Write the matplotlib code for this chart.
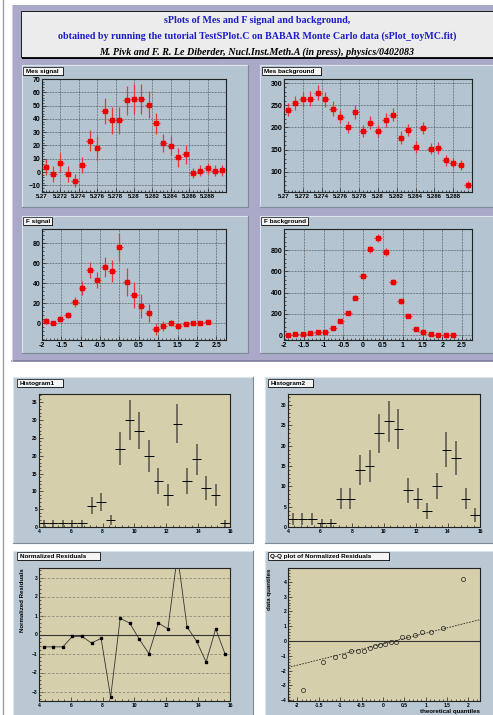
import matplotlib
matplotlib.use('Agg')
import matplotlib.pyplot as plt
import numpy as np
from matplotlib.patches import Rectangle
from matplotlib.ticker import MultipleLocator, FixedLocator

W, H = 493, 715
plt.rcParams['font.family'] = ['Liberation Sans', 'DejaVu Sans']

# ---- datos ----
mes_edges = np.linspace(5.27, 5.29, 26)
mes_signal = [3.75, -1.75, 7, -1.75, -6.5, 5.25, 23.5, 18, 46, 39, 39, 54, 55, 55, 50.7,
              36.75, 21.75, 19.75, 11, 13.25, -0.75, 1, 2.75, 1, 1.25]
mes_signal_err = [6, 6, 7, 6, 5, 6, 8, 9, 10, 10, 10, 11, 11, 11, 10, 8, 7, 7, 7, 7, 4, 4, 4, 4, 4]
mes_bkg = [240, 255, 263, 265, 278, 263, 242.5, 224, 201, 235, 192, 211, 192, 217, 229,
           177, 194, 156, 199, 152.5, 154, 126, 120, 116, 71]
mes_bkg_err = [15, 16, 16, 16, 17, 16, 16, 15, 14, 15, 14, 15, 14, 15, 15,
               14, 14, 13, 14, 13, 13, 12, 11, 11, 9]
mes_ticks = [5.27, 5.272, 5.274, 5.276, 5.278, 5.28, 5.282, 5.284, 5.286, 5.288]
mes_labels = ['5.27', '5.272', '5.274', '5.276', '5.278', '5.28', '5.282', '5.284', '5.286', '5.288']

f_edges = np.linspace(-2, 2.75, 26)
f_signal = [2.3, 0, 4.3, 7.7, 20.7, 34.7, 52.7, 43.3, 56, 52, 75.7, 40.7, 27.7, 17.3, 10.3,
            -5.7, -3, 0, -3, -1.3, 0, 0, 1.3]
f_signal_err = [3, 2, 3, 3, 5, 7, 8, 8, 10, 11, 14, 14, 13, 12, 9, 6, 5, 3, 3, 2, 2, 2, 2]
f_bkg = [3, 6, 9, 16, 25, 25, 63, 129, 210, 351, 555, 806, 916, 781, 499, 317, 179, 56,
         28, 12, 3, 3, 3]
f_bkg_err = [4, 5, 6, 7, 8, 8, 11, 15, 19, 24, 30, 36, 38, 35, 28, 22, 17, 10, 7, 5, 3, 3, 3]
f_ticks = [-2, -1.5, -1, -0.5, 0, 0.5, 1, 1.5, 2, 2.5]
f_labels = ['-2', '-1.5', '-1', '-0.5', '0', '0.5', '1', '1.5', '2', '2.5']

h_edges = np.linspace(4, 16, 21)
histogram1 = [1, 1, 1, 1, 1, 6, 7, 2, 22, 30, 27, 20, 13, 9, 29, 13, 19, 11, 9, 1]
histogram2 = [2, 2, 2, 1, 1, 7, 7, 14, 15, 23, 26, 24, 9, 7, 4, 10, 19, 17, 7, 3]
residuals = [-0.65, -0.65, -0.65, -0.1, -0.1, -0.45, -0.2, -3.3, 0.85, 0.6, -0.25, -1.0,
             0.6, 0.3, 4.2, 0.4, -0.35, -1.45, 0.3, -1.05]
qq_theo = [-1.87, -1.40, -1.13, -0.92, -0.74, -0.59, -0.45, -0.31, -0.19, -0.06,
           0.06, 0.19, 0.31, 0.45, 0.59, 0.74, 0.92, 1.13, 1.40, 1.87]
qq_slope, qq_intercept = 0.72, -0.19

titulo = ['sPlots of Mes and F signal and background,',
          'obtained by running the tutorial TestSPlot.C on BABAR Monte Carlo data (sPlot_toyMC.fit)',
          'M. Pivk and F. R. Le Diberder, Nucl.Inst.Meth.A (in press), physics/0402083']

# ---- colores ----
canvas_col = '#aba9c9'
pad_col = '#b4c4d0'
pad2_col = '#b9c8d3'
frame_col = '#d6cfab'
light, dark = '#dde5ec', '#7f8c98'

fig = plt.figure(figsize=(W/100, H/100), dpi=100)
fig.patch.set_facecolor('white')
bg = fig.add_axes([0, 0, 1, 1])
bg.set_xlim(0, W); bg.set_ylim(H, 0); bg.axis('off')

def px_axes(x0, y0, x1, y1):
    return fig.add_axes([x0/W, 1-y1/H, (x1-x0)/W, (y1-y0)/H])

def pad(x0, y0, x1, y1, col):
    bg.add_patch(Rectangle((x0, y0), x1-x0, y1-y0, fc=col, ec='none'))
    bg.plot([x0, x0, x1], [y1, y0, y0], color=light, lw=0.8)
    bg.plot([x0, x1, x1], [y1, y1, y0], color=dark, lw=0.8)

def caja(x0, y0, x1, y1, texto):
    bg.add_patch(Rectangle((x0+1, y0+1), x1-x0, y1-y0, fc='black', ec='none'))
    bg.add_patch(Rectangle((x0, y0), x1-x0, y1-y0, fc='#f4f4f4', ec='black', lw=0.5))
    bg.text(x0+2.5, (y0+y1)/2+0.3, texto, fontsize=4.6, fontweight='bold', va='center', ha='left')

# linea gris a la izquierda
bg.plot([3, 3], [0, H], color='#a0a0a0', lw=1)

# lienzo superior
bg.add_patch(Rectangle((12, 5), W-12, 356, fc=canvas_col, ec='none'))
bg.plot([12, W], [361, 361], color='#7d7b99', lw=1.2)
bg.plot([12, 12], [5, 361], color='#cfcde3', lw=0.8)

# titulo
bg.add_patch(Rectangle((22, 13), W-22, 46, fc='black', ec='none'))
bg.add_patch(Rectangle((21, 11), W-21, 46, fc='#ececec', ec='black', lw=0.6))
for i, col, st in [(0, '#1c1cc8', 'normal'), (1, '#1c1cc8', 'normal'), (2, 'black', 'italic')]:
    bg.text(257, 20.5 + 15.7*i, titulo[i], color=col, fontsize=7.2, fontweight='bold',
            style=st, family='Liberation Serif', ha='center', va='center')

# pads superiores
pad(22, 65, 248, 207, pad_col)
pad(260, 65, W+2, 207, pad_col)
pad(22, 216, 248, 353, pad_col)
pad(260, 216, W+2, 353, pad_col)

# pads inferiores
pad(13, 377, 253, 543, pad2_col)
pad(265, 377, W+2, 543, pad2_col)
pad(13, 551, 253, H+2, pad2_col)
pad(265, 551, W+2, H+2, pad2_col)


def estilo(ax, size, bold=True):
    ax.tick_params(which='both', direction='in', top=False, right=False,
                   labelsize=size, pad=1.2, width=0.5, color='#222222')
    ax.tick_params(which='major', length=3.2)
    ax.tick_params(which='minor', length=1.7)
    for lab in ax.get_xticklabels() + ax.get_yticklabels():
        lab.set_fontweight('bold' if bold else 'normal')
    for s in ax.spines.values():
        s.set_linewidth(0.8)
        s.set_color('#222222')


def superior(ax, edges, vals, errs, ylim, ymaj, ymin_, xt, xl, xminor, xsize=5):
    centers = 0.5*(edges[:-1]+edges[1:])
    half = 0.5*np.diff(edges)
    n = len(vals)
    ax.set_facecolor(pad_col)
    ax.errorbar(centers[:n], vals, yerr=errs, xerr=half[:n], fmt='s', color='#ee0000',
                ms=3.0, ecolor='#e8383c', elinewidth=0.9, capsize=0, zorder=3)
    ax.set_xlim(edges[0], edges[-1])
    ax.set_ylim(*ylim)
    ax.xaxis.set_major_locator(FixedLocator(xt))
    ax.set_xticklabels(xl)
    ax.xaxis.set_minor_locator(MultipleLocator(xminor))
    ax.yaxis.set_major_locator(MultipleLocator(ymaj))
    ax.yaxis.set_minor_locator(MultipleLocator(ymin_))
    ax.grid(True, which='major', linestyle=(0, (1, 1.2)), color='#333333', lw=0.5)
    estilo(ax, 5)
    ax.tick_params(axis='x', labelsize=xsize)


ax1 = px_axes(42, 79, 226, 192)
superior(ax1, mes_edges, mes_signal, mes_signal_err, (-15, 70), 10, 2, mes_ticks, mes_labels, 0.0004, 4.3)
ax2 = px_axes(284, 79, 472, 192)
superior(ax2, mes_edges, mes_bkg, mes_bkg_err, (55, 309), 50, 10, mes_ticks, mes_labels, 0.0004, 4.3)
ax3 = px_axes(42, 229, 226, 340)
superior(ax3, f_edges, f_signal, f_signal_err, (-17, 94), 20, 4, f_ticks, f_labels, 0.1)
ax4 = px_axes(284, 229, 472, 340)
superior(ax4, f_edges, f_bkg, f_bkg_err, (-47, 998), 200, 40, f_ticks, f_labels, 0.1)

caja(23, 67, 63, 75, 'Mes signal')
caja(262, 67, 321, 75, 'Mes background')
caja(23, 217, 52, 225, 'F signal')
caja(261, 217, 308, 225, 'F background')


def histo(ax, vals, ymax):
    centers = 0.5*(h_edges[:-1]+h_edges[1:])
    half = 0.5*np.diff(h_edges)
    vals = np.array(vals, dtype=float)
    ax.set_facecolor(frame_col)
    ax.errorbar(centers, vals, yerr=np.sqrt(vals), fmt='none', ecolor='#55524a',
                elinewidth=1.1, capsize=0)
    ax.errorbar(centers, vals, xerr=half, fmt='none', ecolor='black',
                elinewidth=0.7, capsize=0)
    ax.set_xlim(4, 16)
    ax.set_ylim(0, ymax)
    ax.xaxis.set_major_locator(MultipleLocator(2))
    ax.xaxis.set_minor_locator(MultipleLocator(0.4))
    ax.yaxis.set_major_locator(MultipleLocator(5))
    ax.yaxis.set_minor_locator(MultipleLocator(1))
    estilo(ax, 3.6)


ax5 = px_axes(39, 394, 230, 527)
histo(ax5, histogram1, 37.3)
ax6 = px_axes(288, 394, 480, 527)
histo(ax6, histogram2, 32.7)
caja(17, 379, 63, 387, 'Histogram1')
caja(268, 379, 313, 387, 'Histogram2')

# residuos normalizados
centers = 0.5*(h_edges[:-1]+h_edges[1:])
ax7 = px_axes(39, 568, 230, 701)
ax7.set_facecolor(frame_col)
for yy in [-3, -2, -1, 1, 2, 3]:
    ax7.axhline(yy, color='#8d8a78', lw=0.6, ls=(0, (3, 2)))
ax7.axhline(0, color='#333333', lw=0.8)
ax7.plot(centers, residuals, '-', color='#333333', lw=0.6, marker='s', ms=1.8,
         mfc='black', mec='black', zorder=3)
ax7.set_xlim(4, 16)
ax7.set_ylim(-3.5, 3.5)
ax7.xaxis.set_major_locator(MultipleLocator(2))
ax7.xaxis.set_minor_locator(MultipleLocator(0.4))
ax7.yaxis.set_major_locator(MultipleLocator(1))
ax7.yaxis.set_minor_locator(MultipleLocator(0.2))
ax7.set_ylabel('Normalized Residuals', fontsize=4.4, fontweight='bold', loc='top', labelpad=5)
estilo(ax7, 3.6)

# Q-Q
ax8 = px_axes(288, 568, 480, 701)
ax8.set_facecolor(frame_col)
ax8.axhline(0, color='#333333', lw=0.8)
ax8.axline((0, qq_intercept), slope=qq_slope, color='#222222', lw=0.6, ls=(0, (2, 1.5)))
ax8.plot(qq_theo, sorted(residuals), 'o', mfc='none', mec='#222222', ms=3, mew=0.5, zorder=3)
ax8.set_xlim(-2.22, 2.27)
ax8.set_ylim(-4.05, 4.93)
ax8.xaxis.set_major_locator(MultipleLocator(0.5))
ax8.xaxis.set_minor_locator(MultipleLocator(0.1))
ax8.yaxis.set_major_locator(MultipleLocator(1))
ax8.yaxis.set_minor_locator(MultipleLocator(0.2))
ax8.set_xticks([-2, -1.5, -1, -0.5, 0, 0.5, 1, 1.5, 2])
ax8.set_xticklabels(['-2', '-1.5', '-1', '-0.5', '0', '0.5', '1', '1.5', '2'])
ax8.set_ylabel('data quantiles', fontsize=4.4, fontweight='bold', loc='top', labelpad=6)
ax8.set_xlabel('theoretical quantiles', fontsize=4.4, fontweight='bold', loc='right', labelpad=1)
estilo(ax8, 3.6)

caja(17, 552, 100, 560, 'Normalized Residuals')
caja(268, 552, 389, 560, 'Q-Q plot of Normalized Residuals')

fig.savefig('out.png', dpi=100, facecolor='white')
